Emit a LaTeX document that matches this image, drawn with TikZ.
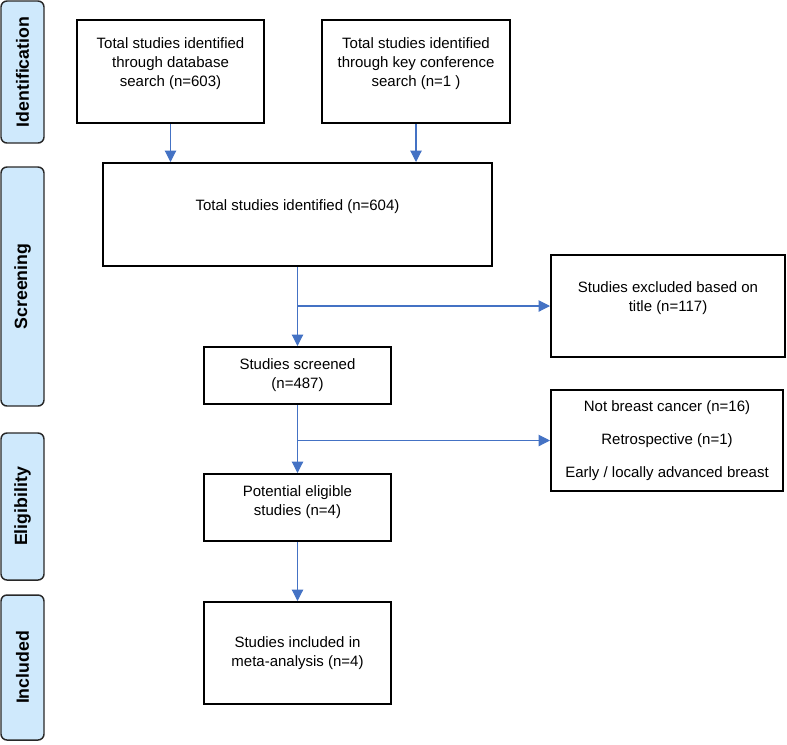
\documentclass[tikz,border=0pt]{standalone}
\usepackage{fontspec}
\setmainfont{Liberation Sans}
\usepackage{tikz}
\usetikzlibrary{arrows.meta}
\definecolor{arrowblue}{RGB}{68,114,196}
\definecolor{phasefill}{RGB}{207,233,252}
\definecolor{phaseline}{RGB}{40,40,40}
\tikzset{
  box/.style={draw, line width=1.5pt, align=center, inner sep=2pt,
    font=\fontsize{11.25}{14.25}\selectfont},
  boxtext/.style={align=center, font=\fontsize{11.25}{14.25}\selectfont},
  phase/.style={draw=phaseline, fill=phasefill, line width=1.1pt, rounded corners=4.5pt,
    rotate=90, minimum height=32.25pt, font=\fontsize{13.3}{15}\selectfont\bfseries},
  flow/.style={draw=arrowblue, line width=0.8pt, -{Triangle[width=8.5pt,length=8.5pt]}}
}

\begin{document}
\begin{tikzpicture}[x=0.75pt,y=-0.75pt]
      \useasboundingbox (0,0) rectangle (787,744);

      % Phase labels on the left
      \node[phase, minimum width=106.5pt] (ident) at (22.5,72) {Identification};
      \node[phase, minimum width=179.25pt] (screen) at (22.5,286.5) {Screening};
      \node[phase, minimum width=110.25pt] (elig) at (22.5,506.5) {Eligibility};
      \node[phase, minimum width=108.75pt] (incl) at (22.5,667.5) {Included};

      % Identification
      \node[box, minimum width=140.25pt, minimum height=77.25pt,
        label={[boxtext, yshift=5.6pt]center:{Total studies identified\\through database\\search (n=603)}}]
        (db) at (170.5,71.5) {};
      \node[box, minimum width=141pt, minimum height=77.25pt,
        label={[boxtext, yshift=5.6pt]center:{Total studies identified\\through key conference\\search (n=1 )}}]
        (conf) at (416,71.5) {};

      % Screening
      \node[box, minimum width=291.75pt, minimum height=77.25pt,
        label={[boxtext, yshift=5.6pt]center:{Total studies identified (n=604)}}]
        (total) at (297.5,214.5) {};
      \node[box, minimum width=175.5pt, minimum height=76.5pt,
        label={[boxtext, yshift=5.6pt]center:{Studies excluded based on\\title (n=117)}}]
        (title) at (668,306) {};
      \node[box, minimum width=140.25pt, minimum height=42.75pt] (screened) at (297.5,375.5)
        {Studies screened\\(n=487)};

      % Eligibility
      \node[box, minimum width=174pt, minimum height=75.75pt] (reasons) at (667,440.5)
        {Not breast cancer (n=16)\\[10.5pt]Retrospective (n=1)\\[10.5pt]Early / locally advanced breast};
      \node[box, minimum width=140.25pt, minimum height=50.25pt,
        label={[boxtext, yshift=4pt]center:{Potential eligible\\studies (n=4)}}]
        (eligible) at (297.5,507.5) {};

      % Included
      \node[box, minimum width=140.25pt, minimum height=76.5pt] (meta) at (297.5,653)
        {Studies included in\\meta-analysis (n=4)};

      % Arrows
      \draw[flow] (db.south) -- (db.south |- total.north);
      \draw[flow] (conf.south) -- (conf.south |- total.north);
      \draw[flow] (total.south) -- (screened.north);
      \draw[flow] (total.south |- title.west) -- (title.west);
      \draw[flow] (screened.south) -- (eligible.north);
      \draw[flow] (screened.south |- reasons.west) -- (reasons.west);
      \draw[flow] (eligible.south) -- (meta.north);

    \end{tikzpicture}
\end{document}
